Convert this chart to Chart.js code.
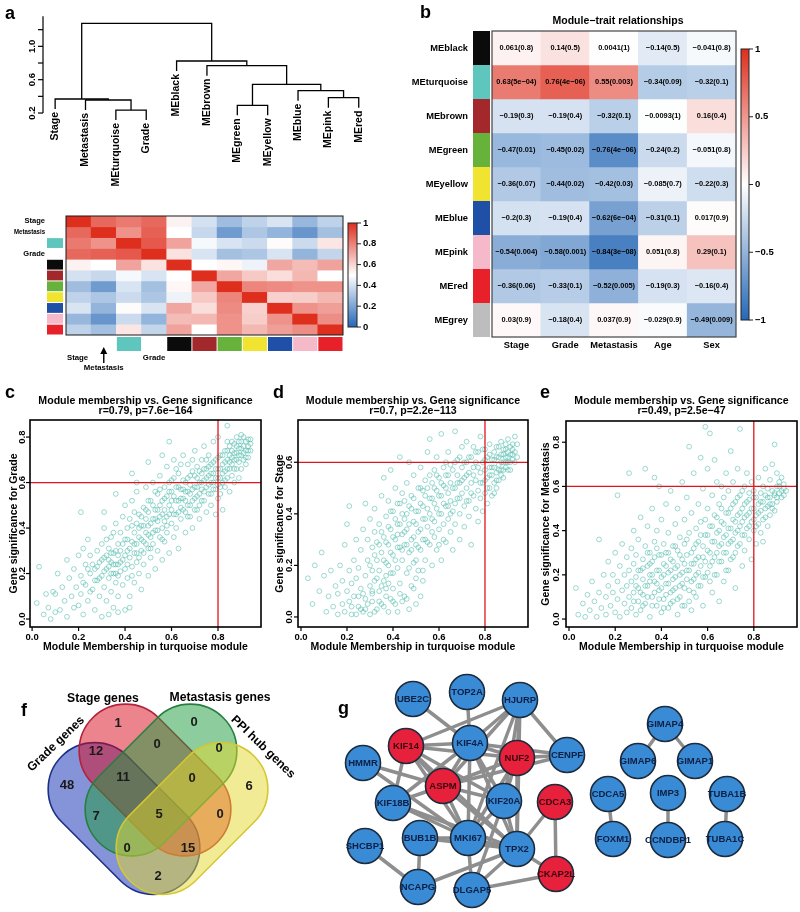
<!DOCTYPE html>
<html lang="en">
<head>
<meta charset="UTF-8">
<title>Turquoise module analysis</title>
<script src="https://cdn.jsdelivr.net/npm/chart.js@4"></script>
<style>
  body { margin: 0; background: #fff; }
  #page { position: relative; width: 800px; height: 912px; overflow: hidden; background: #fff;
          font-family: 'Liberation Sans', Arial, sans-serif; }
  #page canvas { position: absolute; }
  .tag { position: absolute; font-weight: bold; font-size: 18px; line-height: 18px; color: #000; }
</style>
</head>
<body>
<div id="page">
  <canvas id="dendro" width="400" height="190" style="left:0;top:0"></canvas>
  <canvas id="adj" width="400" height="190" style="left:0;top:190px"></canvas>
  <canvas id="trait" width="400" height="360" style="left:400px;top:0"></canvas>
  <canvas id="scGrade" width="268" height="275" style="left:0;top:385px"></canvas>
  <canvas id="scStage" width="266" height="275" style="left:268px;top:385px"></canvas>
  <canvas id="scMeta" width="266" height="275" style="left:534px;top:385px"></canvas>
  <canvas id="venn" width="340" height="232" style="left:0;top:680px"></canvas>
  <canvas id="net" width="460" height="240" style="left:340px;top:672px"></canvas>
  <div class="tag" style="left:5px;top:4px">a</div>
  <div class="tag" style="left:420px;top:3px">b</div>
  <div class="tag" style="left:5px;top:383px">c</div>
  <div class="tag" style="left:273px;top:383px">d</div>
  <div class="tag" style="left:540px;top:383px">e</div>
  <div class="tag" style="left:21px;top:701px">f</div>
  <div class="tag" style="left:338px;top:699px">g</div>
</div>
<script>
// ---------- data ----------
// a: eigengene dendrogram (hclust style merges: negative = leaf, positive = earlier merge)
const dendroLeaves = ['Stage', 'Metastasis', 'MEturquoise', 'Grade', 'MEblack', 'MEbrown',
                      'MEgreen', 'MEyellow', 'MEblue', 'MEpink', 'MEred'];
const dendroMerges = [[-3, -4, 0.236], [-2, 1, 0.356], [-1, 2, 0.368], [-10, -11, 0.384],
                      [-9, 4, 0.468], [-7, -8, 0.292], [6, 5, 0.544], [-6, 7, 0.768],
                      [-5, 8, 0.824], [3, 9, 1.276]];
const dendroTicks = [0.2, 0.4, 0.6, 0.8, 1.0, 1.2];

// a: eigengene adjacency heatmap
const adjNames = ['Stage', 'Metastasis', 'MEturquoise', 'Grade', 'MEblack', 'MEbrown',
                  'MEgreen', 'MEyellow', 'MEblue', 'MEpink', 'MEred'];
const adjValues = [
  [1.00, 0.86, 0.82, 0.86, 0.53, 0.40, 0.28, 0.35, 0.41, 0.26, 0.35],
  [0.86, 1.00, 0.76, 0.88, 0.50, 0.37, 0.17, 0.31, 0.25, 0.15, 0.29],
  [0.82, 0.76, 1.00, 0.90, 0.72, 0.48, 0.41, 0.38, 0.51, 0.38, 0.56],
  [0.86, 0.88, 0.90, 1.00, 0.57, 0.41, 0.29, 0.31, 0.41, 0.25, 0.36],
  [0.53, 0.50, 0.72, 0.57, 1.00, 0.50, 0.52, 0.46, 0.71, 0.66, 0.72],
  [0.40, 0.37, 0.48, 0.41, 0.50, 1.00, 0.71, 0.63, 0.58, 0.67, 0.50],
  [0.28, 0.17, 0.41, 0.29, 0.52, 0.71, 1.00, 0.79, 0.78, 0.76, 0.76],
  [0.35, 0.31, 0.38, 0.31, 0.46, 0.63, 0.79, 1.00, 0.61, 0.62, 0.67],
  [0.41, 0.25, 0.51, 0.41, 0.71, 0.58, 0.78, 0.61, 1.00, 0.76, 0.73],
  [0.26, 0.15, 0.38, 0.25, 0.66, 0.67, 0.76, 0.62, 0.76, 1.00, 0.77],
  [0.35, 0.29, 0.56, 0.36, 0.72, 0.50, 0.76, 0.67, 0.73, 0.77, 1.00]
];
const adjBarTicks = [0, 0.2, 0.4, 0.6, 0.8, 1];

// b: module-trait relationships
const traitNames = ['Stage', 'Grade', 'Metastasis', 'Age', 'Sex'];
const traitModules = ['MEblack', 'MEturquoise', 'MEbrown', 'MEgreen', 'MEyellow', 'MEblue', 'MEpink', 'MEred', 'MEgrey'];
const traitCor = [
  [0.061, 0.14, 0.0041, -0.14, -0.041],
  [0.63, 0.76, 0.55, -0.34, -0.32],
  [-0.19, -0.19, -0.32, -0.0093, 0.16],
  [-0.47, -0.45, -0.76, -0.24, -0.051],
  [-0.36, -0.44, -0.42, -0.085, -0.22],
  [-0.2, -0.19, -0.62, -0.31, 0.017],
  [-0.54, -0.58, -0.84, 0.051, 0.29],
  [-0.36, -0.33, -0.52, -0.19, -0.16],
  [0.03, -0.18, 0.037, -0.029, -0.49]
];
const traitP = [
  ['0.8', '0.5', '1', '0.5', '0.8'],
  ['5e-04', '4e-06', '0.003', '0.09', '0.1'],
  ['0.3', '0.4', '0.1', '1', '0.4'],
  ['0.01', '0.02', '4e-06', '0.2', '0.8'],
  ['0.07', '0.02', '0.03', '0.7', '0.3'],
  ['0.3', '0.4', '6e-04', '0.1', '0.9'],
  ['0.004', '0.001', '3e-08', '0.8', '0.1'],
  ['0.06', '0.1', '0.005', '0.3', '0.4'],
  ['0.9', '0.4', '0.9', '0.9', '0.009']
];
const traitBarTicks = [-1, -0.5, 0, 0.5, 1];

const moduleColors = { MEturquoise: '#5fc6bd', MEblack: '#0b0b0b', MEbrown: '#a3282c', MEgreen: '#66b23b',
  MEyellow: '#f0e431', MEblue: '#1f4fa6', MEpink: '#f5b9c9', MEred: '#e8202a', MEgrey: '#bdbdbd' };

// c, d, e: module membership (x) vs gene significance (y)
const gsGrade = [
  [0.02,0.07],[0.03,0.23],[0.05,0.02],[0.06,0.11],[0.07,0.05],[0.08,0.00],[0.09,0.12],[0.10,0.03],[0.10,0.11],
  [0.11,0.20],[0.12,0.04],[0.13,0.14],[0.14,0.08],[0.15,0.26],[0.15,0.01],[0.16,0.18],[0.17,0.10],[0.18,0.05],
  [0.18,0.22],[0.19,0.14],[0.20,0.28],[0.20,0.06],[0.21,0.19],[0.21,0.11],[0.21,0.47],[0.22,0.31],[0.22,0.02],
  [0.23,0.24],[0.23,0.15],[0.24,0.08],[0.24,0.35],[0.25,0.20],[0.25,0.28],[0.26,0.13],[0.27,0.22],[0.27,0.04],
  [0.28,0.30],[0.28,0.17],[0.29,0.25],[0.29,0.10],[0.30,0.33],[0.30,0.19],[0.30,0.01],[0.31,0.27],[0.31,0.14],
  [0.31,0.40],[0.31,0.47],[0.32,0.22],[0.32,0.08],[0.33,0.31],[0.33,0.18],[0.33,0.02],[0.34,0.25],[0.34,0.12],
  [0.34,0.36],[0.35,0.20],[0.35,0.29],[0.35,0.05],[0.36,0.42],[0.36,0.24],[0.36,0.16],[0.36,0.55],[0.37,0.33],
  [0.37,0.28],[0.37,0.10],[0.37,0.03],[0.38,0.38],[0.38,0.21],[0.38,0.30],[0.39,0.45],[0.39,0.26],[0.39,0.15],
  [0.40,0.35],[0.40,0.22],[0.40,0.50],[0.40,0.04],[0.41,0.30],[0.41,0.40],[0.41,0.18],[0.42,0.27],[0.42,0.44],
  [0.42,0.10],[0.42,0.05],[0.43,0.34],[0.43,0.23],[0.43,0.52],[0.43,0.64],[0.44,0.38],[0.44,0.29],[0.44,0.16],
  [0.45,0.42],[0.45,0.33],[0.45,0.25],[0.45,0.56],[0.45,0.60],[0.46,0.46],[0.46,0.20],[0.46,0.36],[0.47,0.30],
  [0.47,0.41],[0.47,0.13],[0.48,0.49],[0.48,0.34],[0.48,0.24],[0.49,0.44],[0.49,0.38],[0.49,0.58],[0.50,0.31],
  [0.50,0.47],[0.50,0.19],[0.50,0.41],[0.50,0.69],[0.51,0.36],[0.51,0.52],[0.51,0.27],[0.52,0.44],[0.52,0.60],
  [0.52,0.33],[0.53,0.48],[0.53,0.39],[0.53,0.22],[0.54,0.55],[0.54,0.43],[0.54,0.30],[0.55,0.50],[0.55,0.36],
  [0.55,0.63],[0.56,0.46],[0.56,0.40],[0.56,0.26],[0.56,0.72],[0.57,0.53],[0.57,0.58],[0.57,0.34],[0.58,0.45],
  [0.58,0.67],[0.58,0.38],[0.59,0.50],[0.59,0.56],[0.59,0.29],[0.59,0.78],[0.60,0.42],[0.60,0.61],[0.60,0.48],
  [0.61,0.54],[0.61,0.36],[0.61,0.70],[0.62,0.46],[0.62,0.58],[0.62,0.40],[0.63,0.52],[0.63,0.64],[0.63,0.31],
  [0.64,0.49],[0.64,0.57],[0.64,0.44],[0.65,0.61],[0.65,0.53],[0.65,0.72],[0.66,0.47],[0.66,0.56],[0.66,0.38],
  [0.67,0.62],[0.67,0.50],[0.67,0.68],[0.68,0.55],[0.68,0.45],[0.68,0.59],[0.69,0.65],[0.69,0.52],[0.69,0.40],
  [0.70,0.58],[0.70,0.74],[0.70,0.48],[0.71,0.62],[0.71,0.54],[0.71,0.67],[0.72,0.50],[0.72,0.60],[0.72,0.44],
  [0.73,0.70],[0.73,0.57],[0.73,0.64],[0.74,0.52],[0.74,0.61],[0.74,0.76],[0.75,0.58],[0.75,0.66],[0.75,0.47],
  [0.76,0.63],[0.76,0.55],[0.76,0.72],[0.77,0.60],[0.77,0.68],[0.77,0.50],[0.78,0.64],[0.78,0.57],[0.78,0.78],
  [0.79,0.62],[0.79,0.70],[0.79,0.46],[0.80,0.59],[0.80,0.66],[0.80,0.53],[0.80,0.80],[0.81,0.62],[0.81,0.72],
  [0.81,0.55],[0.82,0.68],[0.82,0.60],[0.82,0.48],[0.83,0.74],[0.83,0.65],[0.83,0.58],[0.84,0.70],[0.84,0.62],
  [0.84,0.78],[0.84,0.85],[0.85,0.66],[0.85,0.72],[0.85,0.56],[0.86,0.74],[0.86,0.68],[0.86,0.63],[0.87,0.77],
  [0.87,0.70],[0.87,0.60],[0.88,0.73],[0.88,0.66],[0.88,0.80],[0.89,0.75],[0.89,0.69],[0.89,0.62],[0.90,0.78],
  [0.90,0.72],[0.90,0.66],[0.91,0.76],[0.91,0.80],[0.91,0.70],[0.92,0.74],[0.92,0.78],[0.92,0.68],[0.93,0.76],
  [0.93,0.71],[0.94,0.74],[0.94,0.79],
  [0.22,0.16],[0.24,0.22],[0.25,0.12],[0.26,0.24],[0.27,0.17],[0.28,0.23],[0.29,0.18],[0.30,0.26],[0.31,0.21],
  [0.32,0.28],[0.33,0.23],[0.34,0.29],[0.35,0.24],[0.36,0.20],[0.37,0.24],[0.32,0.35],[0.33,0.26],[0.34,0.20],
  [0.35,0.38],[0.36,0.30],[0.37,0.19],[0.38,0.25],[0.39,0.33],[0.40,0.28],[0.41,0.24],[0.41,0.35],[0.42,0.31],
  [0.43,0.19],[0.43,0.41],[0.44,0.33],[0.44,0.47],[0.45,0.29],[0.46,0.40],[0.46,0.27],[0.47,0.35],[0.47,0.45],
  [0.48,0.29],[0.48,0.41],[0.49,0.33],[0.49,0.48],[0.50,0.37],[0.50,0.52],[0.51,0.42],[0.51,0.31],[0.52,0.38],
  [0.52,0.50],[0.53,0.44],[0.53,0.56],[0.54,0.39],[0.54,0.48],[0.55,0.45],[0.55,0.57],[0.56,0.52],[0.56,0.35],
  [0.57,0.43],[0.57,0.48],[0.58,0.54],[0.58,0.41],[0.59,0.46],[0.59,0.60],[0.60,0.52],[0.60,0.56],[0.61,0.46],
  [0.61,0.62],[0.62,0.52],[0.62,0.66],[0.63,0.47],[0.63,0.58],[0.64,0.53],[0.64,0.68],[0.65,0.57],[0.65,0.48],
  [0.66,0.60],[0.66,0.52],[0.67,0.56],[0.67,0.45],[0.68,0.63],[0.68,0.50],[0.69,0.57],[0.69,0.70],[0.70,0.53],
  [0.70,0.63],[0.71,0.58],[0.71,0.48],[0.72,0.65],[0.72,0.55],[0.73,0.60],[0.73,0.52],[0.74,0.66],[0.74,0.56],
  [0.75,0.62],[0.75,0.70],[0.76,0.59],[0.76,0.67],[0.77,0.64],[0.77,0.55],[0.78,0.60],[0.78,0.69],[0.79,0.66],
  [0.79,0.57],[0.80,0.62],[0.80,0.71],[0.81,0.66],[0.81,0.58],[0.82,0.64],[0.82,0.72],[0.83,0.69],[0.83,0.61],
  [0.84,0.66],[0.84,0.74],[0.85,0.69],[0.85,0.76],[0.86,0.71],[0.86,0.78],[0.87,0.73],[0.87,0.66],[0.88,0.76],
  [0.88,0.70],[0.89,0.72],[0.89,0.78],[0.90,0.75],[0.90,0.81],[0.91,0.73],[0.92,0.71],[0.93,0.79],[0.93,0.74],
  [0.94,0.77]
];
const gsStage = [
  [0.03,0.15],[0.05,0.05],[0.06,0.20],[0.08,0.10],[0.09,0.25],[0.10,0.16],[0.11,0.02],[0.12,0.08],[0.13,0.18],
  [0.14,0.04],[0.15,0.12],[0.16,0.01],[0.16,0.09],[0.17,0.20],[0.18,0.05],[0.18,0.14],[0.19,0.28],[0.19,0.02],
  [0.20,0.10],[0.20,0.36],[0.21,0.06],[0.21,0.18],[0.21,0.43],[0.22,0.13],[0.22,0.01],[0.23,0.22],[0.23,0.08],
  [0.24,0.30],[0.24,0.15],[0.24,0.01],[0.25,0.04],[0.25,0.19],[0.26,0.11],[0.26,0.26],[0.26,0.03],[0.27,0.02],
  [0.27,0.34],[0.27,0.09],[0.28,0.16],[0.28,0.44],[0.28,0.07],[0.29,0.22],[0.29,0.30],[0.29,0.05],[0.30,0.12],
  [0.30,0.01],[0.30,0.38],[0.31,0.18],[0.31,0.27],[0.31,0.06],[0.32,0.33],[0.32,0.14],[0.32,0.42],[0.32,0.02],
  [0.33,0.22],[0.33,0.03],[0.33,0.29],[0.34,0.10],[0.34,0.36],[0.34,0.18],[0.35,0.25],[0.35,0.47],[0.35,0.05],
  [0.36,0.31],[0.36,0.14],[0.36,0.54],[0.36,0.04],[0.37,0.21],[0.37,0.39],[0.37,0.08],[0.37,0.11],[0.38,0.28],
  [0.38,0.45],[0.38,0.02],[0.39,0.17],[0.39,0.34],[0.39,0.57],[0.39,0.07],[0.40,0.24],[0.40,0.41],[0.40,0.11],
  [0.41,0.30],[0.41,0.50],[0.41,0.05],[0.42,0.19],[0.42,0.36],[0.42,0.27],[0.42,0.02],[0.43,0.44],[0.43,0.13],
  [0.43,0.62],[0.44,0.32],[0.44,0.22],[0.44,0.48],[0.44,0.06],[0.45,0.08],[0.45,0.38],[0.45,0.28],[0.46,0.52],
  [0.46,0.17],[0.46,0.34],[0.47,0.25],[0.47,0.43],[0.47,0.60],[0.47,0.03],[0.48,0.30],[0.48,0.12],[0.48,0.47],
  [0.49,0.37],[0.49,0.21],[0.49,0.55],[0.50,0.28],[0.50,0.41],[0.50,0.05],[0.51,0.50],[0.51,0.33],[0.51,0.18],
  [0.52,0.44],[0.52,0.26],[0.52,0.58],[0.52,0.08],[0.53,0.38],[0.53,0.14],[0.53,0.49],[0.54,0.30],[0.54,0.53],
  [0.54,0.22],[0.55,0.42],[0.55,0.35],[0.55,0.64],[0.56,0.46],[0.56,0.28],[0.56,0.69],[0.57,0.52],[0.57,0.38],
  [0.57,0.20],[0.58,0.44],[0.58,0.57],[0.58,0.31],[0.59,0.49],[0.59,0.26],[0.59,0.62],[0.60,0.40],[0.60,0.54],
  [0.60,0.34],[0.61,0.47],[0.61,0.71],[0.61,0.22],[0.62,0.51],[0.62,0.36],[0.62,0.58],[0.63,0.43],[0.63,0.29],
  [0.63,0.55],[0.64,0.48],[0.64,0.64],[0.64,0.38],[0.65,0.52],[0.65,0.33],[0.65,0.45],[0.66,0.57],[0.66,0.41],
  [0.66,0.26],[0.67,0.50],[0.67,0.72],[0.67,0.36],[0.68,0.55],[0.68,0.46],[0.68,0.61],[0.69,0.40],[0.69,0.52],
  [0.69,0.30],[0.70,0.58],[0.70,0.48],[0.70,0.66],[0.71,0.43],[0.71,0.54],[0.71,0.35],[0.72,0.60],[0.72,0.50],
  [0.72,0.68],[0.73,0.45],[0.73,0.56],[0.73,0.39],[0.74,0.62],[0.74,0.52],[0.74,0.28],[0.75,0.47],[0.75,0.58],
  [0.75,0.66],[0.76,0.53],[0.76,0.42],[0.76,0.60],[0.77,0.49],[0.77,0.64],[0.77,0.37],[0.78,0.56],[0.78,0.46],
  [0.78,0.70],[0.79,0.52],[0.79,0.60],[0.79,0.41],[0.80,0.57],[0.80,0.48],[0.80,0.65],[0.81,0.54],[0.81,0.44],
  [0.81,0.62],[0.82,0.58],[0.82,0.50],[0.82,0.67],[0.83,0.55],[0.83,0.47],[0.83,0.61],[0.84,0.52],[0.84,0.64],
  [0.84,0.58],[0.85,0.62],[0.85,0.50],[0.85,0.56],[0.86,0.66],[0.86,0.59],[0.86,0.53],[0.87,0.63],[0.87,0.57],
  [0.87,0.68],[0.88,0.60],[0.88,0.65],[0.88,0.54],[0.89,0.62],[0.89,0.67],[0.89,0.58],[0.90,0.64],[0.90,0.60],
  [0.90,0.69],[0.91,0.63],[0.91,0.66],[0.91,0.57],[0.92,0.65],[0.92,0.61],[0.93,0.64],[0.93,0.70],[0.94,0.62],
  [0.94,0.67],
  [0.22,0.04],[0.25,0.08],[0.28,0.03],[0.31,0.09],[0.34,0.06],[0.38,0.13],[0.40,0.06],[0.43,0.09],[0.46,0.07],
  [0.49,0.11],[0.50,0.15],[0.53,0.18],[0.30,0.20],[0.31,0.10],[0.32,0.24],[0.33,0.15],[0.34,0.28],[0.35,0.12],
  [0.35,0.33],[0.36,0.22],[0.37,0.29],[0.37,0.16],[0.38,0.35],[0.38,0.20],[0.39,0.25],[0.39,0.41],[0.40,0.31],
  [0.40,0.17],[0.41,0.38],[0.41,0.22],[0.42,0.32],[0.42,0.44],[0.43,0.27],[0.43,0.36],[0.44,0.40],[0.44,0.26],
  [0.45,0.33],[0.45,0.45],[0.46,0.28],[0.46,0.40],[0.47,0.36],[0.47,0.19],[0.48,0.42],[0.48,0.26],[0.49,0.31],
  [0.49,0.46],[0.50,0.36],[0.50,0.22],[0.51,0.41],[0.51,0.27],[0.52,0.34],[0.52,0.50],[0.53,0.30],[0.53,0.43],
  [0.54,0.38],[0.54,0.47],[0.55,0.29],[0.55,0.50],[0.56,0.40],[0.56,0.55],[0.57,0.33],[0.57,0.46],[0.58,0.50],
  [0.58,0.37],[0.59,0.42],[0.59,0.55],[0.60,0.47],[0.60,0.28],[0.61,0.52],[0.61,0.40],[0.62,0.44],[0.62,0.30],
  [0.63,0.50],[0.63,0.60],[0.64,0.43],[0.64,0.55],[0.65,0.59],[0.65,0.40],[0.66,0.50],[0.67,0.44],[0.67,0.60],
  [0.68,0.52],[0.69,0.46],[0.69,0.62],[0.70,0.53],[0.71,0.60],[0.72,0.45],[0.72,0.55],[0.73,0.62],[0.74,0.48],
  [0.75,0.55],[0.76,0.64],[0.77,0.58],[0.78,0.52],[0.79,0.65],[0.80,0.53],[0.80,0.61],[0.81,0.50],[0.82,0.55],
  [0.82,0.63],[0.83,0.58],[0.84,0.48],[0.84,0.61],[0.85,0.53],[0.85,0.66],[0.86,0.57],[0.86,0.62],[0.87,0.55],
  [0.87,0.60],[0.88,0.63],[0.88,0.57],[0.89,0.60],[0.89,0.65],[0.90,0.57],[0.90,0.62],[0.91,0.60],[0.92,0.63],
  [0.92,0.67],[0.93,0.60]
];
const gsMetastasis = [
  [0.03,0.14],[0.04,0.02],[0.06,0.07],[0.07,0.01],[0.08,0.11],[0.09,0.04],[0.10,0.17],[0.11,0.08],[0.12,0.01],
  [0.13,0.36],[0.13,0.12],[0.14,0.05],[0.15,0.20],[0.16,0.10],[0.16,0.02],[0.17,0.15],[0.17,0.26],[0.18,0.06],
  [0.19,0.20],[0.19,0.12],[0.20,0.03],[0.20,0.30],[0.21,0.56],[0.21,0.09],[0.21,0.17],[0.22,0.24],[0.22,0.01],
  [0.23,0.13],[0.23,0.34],[0.24,0.07],[0.24,0.20],[0.25,0.28],[0.25,0.03],[0.25,0.15],[0.26,0.66],[0.26,0.10],
  [0.26,0.22],[0.27,0.05],[0.27,0.32],[0.27,0.17],[0.28,0.12],[0.28,0.40],[0.28,0.25],[0.29,0.02],[0.29,0.19],
  [0.29,0.29],[0.30,0.08],[0.30,0.36],[0.30,0.14],[0.31,0.22],[0.31,0.46],[0.31,0.04],[0.32,0.27],[0.32,0.11],
  [0.32,0.18],[0.33,0.68],[0.33,0.33],[0.33,0.07],[0.34,0.24],[0.34,0.15],[0.34,0.42],[0.35,0.20],[0.35,0.01],
  [0.35,0.30],[0.36,0.10],[0.36,0.26],[0.36,0.50],[0.37,0.64],[0.37,0.17],[0.37,0.35],[0.38,0.06],[0.38,0.22],
  [0.38,0.40],[0.39,0.60],[0.39,0.13],[0.39,0.29],[0.40,0.19],[0.40,0.03],[0.40,0.45],[0.41,0.25],[0.41,0.34],
  [0.41,0.09],[0.42,0.16],[0.42,0.52],[0.42,0.30],[0.43,0.21],[0.43,0.05],[0.43,0.39],[0.44,0.12],[0.44,0.27],
  [0.44,0.58],[0.45,0.18],[0.45,0.33],[0.45,0.08],[0.46,0.43],[0.46,0.23],[0.46,0.14],[0.47,0.31],[0.47,0.02],
  [0.47,0.50],[0.48,0.20],[0.48,0.37],[0.48,0.10],[0.49,0.27],[0.49,0.62],[0.49,0.16],[0.50,0.34],[0.50,0.06],
  [0.50,0.45],[0.51,0.22],[0.51,0.29],[0.51,0.55],[0.52,0.78],[0.52,0.13],[0.52,0.39],[0.53,0.25],[0.53,0.48],
  [0.53,0.04],[0.54,0.18],[0.54,0.32],[0.54,0.66],[0.55,0.10],[0.55,0.41],[0.55,0.27],[0.56,0.21],[0.56,0.52],
  [0.56,0.35],[0.57,0.73],[0.57,0.15],[0.57,0.44],[0.58,0.28],[0.58,0.06],[0.58,0.59],[0.59,0.87],[0.59,0.38],
  [0.59,0.19],[0.60,0.31],[0.60,0.50],[0.60,0.68],[0.61,0.84],[0.61,0.24],[0.61,0.42],[0.62,0.12],[0.62,0.35],
  [0.62,0.56],[0.63,0.28],[0.63,0.47],[0.63,0.72],[0.64,0.20],[0.64,0.39],[0.64,0.62],[0.65,0.33],[0.65,0.52],
  [0.65,0.08],[0.66,0.44],[0.66,0.26],[0.66,0.60],[0.67,0.37],[0.67,0.17],[0.67,0.55],[0.68,0.48],[0.68,0.30],
  [0.68,0.66],[0.69,0.41],[0.69,0.22],[0.69,0.58],[0.70,0.35],[0.70,0.50],[0.70,0.76],[0.71,0.45],[0.71,0.28],
  [0.71,0.62],[0.72,0.39],[0.72,0.53],[0.72,0.14],[0.73,0.47],[0.73,0.33],[0.73,0.68],[0.74,0.86],[0.74,0.42],
  [0.74,0.56],[0.75,0.38],[0.75,0.50],[0.75,0.24],[0.76,0.46],[0.76,0.60],[0.76,0.31],[0.77,0.53],[0.77,0.41],
  [0.77,0.66],[0.78,0.48],[0.78,0.36],[0.78,0.57],[0.79,0.44],[0.79,0.62],[0.79,0.27],[0.80,0.50],[0.80,0.40],
  [0.80,0.58],[0.81,0.47],[0.81,0.55],[0.81,0.34],[0.82,0.52],[0.82,0.43],[0.82,0.64],[0.83,0.49],[0.83,0.57],
  [0.83,0.39],[0.84,0.35],[0.84,0.53],[0.84,0.60],[0.85,0.46],[0.85,0.56],[0.85,0.68],[0.86,0.51],[0.86,0.59],
  [0.86,0.42],[0.87,0.55],[0.87,0.63],[0.87,0.47],[0.88,0.58],[0.88,0.52],[0.88,0.70],[0.89,0.79],[0.89,0.56],
  [0.89,0.49],[0.90,0.60],[0.90,0.53],[0.90,0.66],[0.91,0.57],[0.91,0.62],[0.92,0.64],[0.92,0.55],[0.93,0.59],
  [0.93,0.61],[0.94,0.58],
  [0.28,0.08],[0.29,0.15],[0.30,0.22],[0.31,0.12],[0.32,0.06],[0.32,0.23],[0.33,0.15],[0.34,0.10],[0.34,0.30],
  [0.35,0.17],[0.35,0.25],[0.36,0.06],[0.36,0.20],[0.37,0.12],[0.37,0.28],[0.38,0.16],[0.38,0.32],[0.39,0.09],
  [0.39,0.22],[0.40,0.14],[0.40,0.29],[0.41,0.20],[0.41,0.05],[0.42,0.24],[0.42,0.11],[0.43,0.16],[0.43,0.30],
  [0.44,0.22],[0.44,0.07],[0.45,0.26],[0.45,0.13],[0.46,0.19],[0.46,0.33],[0.47,0.09],[0.47,0.24],[0.48,0.15],
  [0.48,0.29],[0.49,0.21],[0.49,0.06],[0.50,0.25],[0.50,0.14],[0.51,0.18],[0.51,0.36],[0.52,0.22],[0.52,0.08],
  [0.53,0.30],[0.53,0.17],[0.54,0.25],[0.54,0.12],[0.55,0.34],[0.55,0.20],[0.56,0.28],[0.56,0.15],[0.57,0.24],
  [0.57,0.38],[0.58,0.19],[0.58,0.33],[0.59,0.26],[0.59,0.45],[0.60,0.21],[0.60,0.38],[0.61,0.30],[0.61,0.17],
  [0.62,0.42],[0.62,0.26],[0.63,0.35],[0.63,0.20],[0.64,0.30],[0.64,0.46],[0.65,0.26],[0.65,0.40],[0.66,0.34],
  [0.66,0.50],[0.67,0.30],[0.67,0.43],[0.68,0.38],[0.68,0.22],[0.69,0.34],[0.69,0.48],[0.70,0.41],[0.70,0.27],
  [0.71,0.36],[0.71,0.52],[0.72,0.44],[0.72,0.30],[0.73,0.40],[0.73,0.55],[0.74,0.48],[0.74,0.34],[0.75,0.44],
  [0.75,0.58],[0.76,0.52],[0.76,0.38],[0.77,0.47],[0.78,0.42],[0.78,0.54],[0.79,0.50],[0.80,0.45],[0.80,0.55],
  [0.81,0.42],[0.82,0.48],[0.83,0.53],[0.84,0.45],[0.85,0.50],[0.86,0.55],[0.87,0.52],[0.88,0.50],[0.89,0.57],
  [0.90,0.55],[0.91,0.60],[0.92,0.58],[0.93,0.56]
];
const mmTicks = [0, 0.2, 0.4, 0.6, 0.8];

// f: Venn diagram
const vennSets = ['Grade genes', 'Stage genes', 'Metastasis genes', 'PPI hub genes'];
const vennRegions = ['S', 'M', 'GS', 'SM', 'MP', 'G', 'GSM', 'SMP', 'P', 'GM', 'GSMP', 'SP', 'GMP', 'GSP', 'GP'];
const vennCounts = [1, 0, 12, 0, 0, 48, 11, 0, 6, 7, 5, 0, 0, 15, 2];

// g: PPI network
const nodeNames = ['UBE2C', 'TOP2A', 'HJURP', 'KIF14', 'KIF4A', 'NUF2', 'CENPF', 'HMMR', 'ASPM', 'KIF18B',
  'KIF20A', 'CDCA3', 'SHCBP1', 'BUB1B', 'MKI67', 'TPX2', 'NCAPG', 'DLGAP5', 'CKAP2L',
  'GIMAP4', 'GIMAP6', 'GIMAP1', 'CDCA5', 'IMP3', 'TUBA1B', 'FOXM1', 'CCNDBP1', 'TUBA1C'];
const nodeX = [73, 127, 180, 66, 130, 177, 227, 23, 103, 53, 164, 215, 25, 80, 128, 177, 78, 132, 216,
  325, 298, 355, 268, 328, 387, 273, 328, 385];
const nodeY = [27, 20, 28, 74, 71, 86, 83, 91, 114, 131, 129, 130, 174, 166, 166, 177, 215, 218, 202,
  52, 89, 89, 122, 121, 122, 167, 168, 167];
const hubGenes = ['KIF14', 'NUF2', 'ASPM', 'CDCA3', 'CKAP2L'];
const netEdges = [
  ['UBE2C','KIF4A'], ['TOP2A','KIF4A'],
  ['HJURP','KIF14'], ['HJURP','KIF4A'], ['HJURP','NUF2'], ['HJURP','CENPF'], ['HJURP','ASPM'],
  ['HJURP','KIF20A'], ['HJURP','MKI67'], ['HJURP','TPX2'],
  ['KIF14','KIF4A'], ['KIF14','NUF2'], ['KIF14','ASPM'], ['KIF14','KIF18B'], ['KIF14','MKI67'],
  ['KIF14','KIF20A'], ['KIF14','TPX2'],
  ['HMMR','ASPM'], ['HMMR','MKI67'],
  ['KIF4A','NUF2'], ['KIF4A','ASPM'], ['KIF4A','KIF18B'], ['KIF4A','MKI67'], ['KIF4A','KIF20A'],
  ['KIF4A','TPX2'], ['KIF4A','CENPF'],
  ['NUF2','CENPF'], ['NUF2','ASPM'], ['NUF2','KIF20A'], ['NUF2','MKI67'], ['NUF2','TPX2'],
  ['ASPM','KIF18B'], ['ASPM','KIF20A'], ['ASPM','MKI67'], ['ASPM','TPX2'], ['ASPM','CENPF'],
  ['KIF18B','MKI67'], ['KIF18B','TPX2'],
  ['KIF20A','MKI67'], ['KIF20A','TPX2'], ['KIF20A','DLGAP5'],
  ['CDCA3','TPX2'], ['CDCA3','CKAP2L'], ['SHCBP1','NCAPG'],
  ['BUB1B','MKI67'], ['BUB1B','NCAPG'], ['BUB1B','TPX2'],
  ['MKI67','TPX2'], ['MKI67','DLGAP5'],
  ['TPX2','NCAPG'], ['TPX2','DLGAP5'], ['TPX2','CKAP2L'], ['DLGAP5','CKAP2L'],
  ['GIMAP4','GIMAP6'], ['GIMAP4','GIMAP1'], ['CDCA5','FOXM1'], ['IMP3','CCNDBP1'], ['TUBA1B','TUBA1C']
];

// ---------- helpers ----------
const FAM = "'Liberation Sans', Arial, sans-serif";
Chart.defaults.font.family = FAM;
const bf = sz => 'bold ' + sz + 'px ' + FAM;
const RED = [222, 46, 30], BLUE = [38, 104, 182];
function bwr(t) {
  const c = t >= 0 ? RED : BLUE, a = Math.min(1, Math.abs(t));
  return 'rgb(' + c.map(v => Math.round(255 + (v - 255) * a)).join(',') + ')';
}
const minus = s => String(s).replace(/-/g, '\u2212');
function txt(ctx, s, x, y, font, align, base, color, rot, maxW) {
  ctx.save();
  ctx.translate(x, y);
  if (rot) ctx.rotate(rot);
  ctx.font = font;
  ctx.fillStyle = color || '#000';
  ctx.textAlign = align || 'center';
  ctx.textBaseline = base || 'middle';
  if (maxW) ctx.fillText(s, 0, 0, maxW); else ctx.fillText(s, 0, 0);
  ctx.restore();
}
function line(ctx, x1, y1, x2, y2, color, w) {
  ctx.beginPath();
  ctx.moveTo(x1, y1);
  ctx.lineTo(x2, y2);
  ctx.strokeStyle = color;
  ctx.lineWidth = w;
  ctx.stroke();
}
function opts(pad, scales) {
  return {
    responsive: false, animation: false, events: [],
    layout: { padding: pad, autoPadding: false },
    plugins: { legend: { display: false }, tooltip: { enabled: false } },
    scales: scales
  };
}
function colorBar(ctx, x, y0, y1, w, ticks, lo, hi) {
  const g = ctx.createLinearGradient(0, y1, 0, y0);
  g.addColorStop(0, bwr(-1)); g.addColorStop(0.5, bwr(0)); g.addColorStop(1, bwr(1));
  ctx.fillStyle = g;
  ctx.fillRect(x, y0, w, y1 - y0);
  ctx.strokeStyle = '#222'; ctx.lineWidth = 1;
  ctx.strokeRect(x, y0, w, y1 - y0);
  ticks.forEach(t => {
    const yy = y1 - (t - lo) / (hi - lo) * (y1 - y0);
    line(ctx, x + w, yy, x + w + 4, yy, '#222', 1);
    txt(ctx, minus(t), x + w + 6, yy, bf(9.5), 'left');
  });
}

// ---------- a: dendrogram ----------
(function () {
  const leafX = dendroLeaves.map((_, i) => i + 1);
  const mX = [], mH = [], leafBot = [];
  const pos = id => id < 0 ? leafX[-id - 1] : mX[id - 1];
  dendroMerges.forEach(([a, b, h], k) => { mX[k] = (pos(a) + pos(b)) / 2; mH[k] = h; });
  const hang = 0.12;
  const sets = dendroMerges.map(([a, b, h]) => {
    const bot = id => id < 0 ? (leafBot[-id - 1] = h - hang) : mH[id - 1];
    return {
      data: [{ x: pos(a), y: bot(a) }, { x: pos(a), y: h }, { x: pos(b), y: h }, { x: pos(b), y: bot(b) }],
      showLine: true, borderColor: '#000', borderWidth: 1.3, pointRadius: 0, clip: false
    };
  });
  new Chart(document.getElementById('dendro'), {
    type: 'scatter',
    data: { datasets: sets },
    options: opts({ left: 43, right: 20, top: 17, bottom: 60.3 }, {
      x: { type: 'linear', min: 0.6, max: 11.7, display: false },
      y: { type: 'linear', min: 0, max: 1.352, display: false }
    }),
    plugins: [{
      id: 'dendroAxis',
      afterDatasetsDraw(chart) {
        const { ctx, scales: { x, y }, chartArea: ca } = chart;
        line(ctx, ca.left, y.getPixelForValue(0.2), ca.left, y.getPixelForValue(1.36), '#000', 1.2);
        dendroTicks.forEach((t, i) => {
          const yy = y.getPixelForValue(t);
          line(ctx, ca.left - 5, yy, ca.left, yy, '#000', 1.2);
          if (i % 2 === 0) txt(ctx, t.toFixed(1), ca.left - 11, yy, bf(9.5), 'center', 'middle', '#000', -Math.PI / 2);
        });
        dendroLeaves.forEach((lab, i) => {
          txt(ctx, lab, x.getPixelForValue(leafX[i]), y.getPixelForValue(leafBot[i]) + 3, bf(10.5),
              'right', 'middle', '#000', -Math.PI / 2);
        });
      }
    }]
  });
})();

// ---------- a: adjacency heatmap ----------
(function () {
  const sets = adjValues.map((row, r) => ({
    label: adjNames[r],
    data: row.map(() => 1),
    backgroundColor: row.map(v => bwr(2 * v - 1)),
    borderWidth: 0, barPercentage: 1, categoryPercentage: 1
  }));
  new Chart(document.getElementById('adj'), {
    type: 'bar',
    data: { labels: adjNames, datasets: sets },
    options: opts({ left: 66, right: 57, top: 26, bottom: 45 }, {
      x: { stacked: true, display: false },
      y: { stacked: true, min: 0, max: adjNames.length, reverse: true, display: false }
    }),
    plugins: [{
      id: 'adjDecor',
      afterDatasetsDraw(chart) {
        const { ctx, chartArea: ca } = chart;
        ctx.strokeStyle = '#1a1a1a'; ctx.lineWidth = 1;
        ctx.strokeRect(ca.left, ca.top, ca.right - ca.left, ca.bottom - ca.top);
        const rowH = (ca.bottom - ca.top) / adjNames.length;
        const colW = (ca.right - ca.left) / adjNames.length;
        adjNames.forEach((n, i) => {
          const bar = chart.getDatasetMeta(i).data[0];
          const cy = (bar.y + bar.base) / 2;
          if (moduleColors[n]) {
            ctx.fillStyle = moduleColors[n];
            ctx.fillRect(47, cy - rowH / 2 + 0.5, 16, rowH - 1);
            ctx.fillRect(ca.left + colW * i + 0.5, ca.bottom + 2, colW - 1, 14);
          } else {
            txt(ctx, n, 45, cy, bf(7.5), 'right', 'middle', '#000', 0, n.length > 6 ? 31 : 0);
          }
        });
        const colX = i => ca.left + colW * (i + 0.5);
        txt(ctx, 'Stage', colX(0) - 1, ca.bottom + 23, bf(7.8));
        txt(ctx, 'Grade', colX(3), ca.bottom + 23, bf(7.8));
        const ax = colX(1);
        line(ctx, ax, ca.bottom + 28, ax, ca.bottom + 17, '#000', 1.4);
        ctx.beginPath();
        ctx.moveTo(ax, ca.bottom + 12); ctx.lineTo(ax - 3.5, ca.bottom + 19); ctx.lineTo(ax + 3.5, ca.bottom + 19);
        ctx.closePath(); ctx.fillStyle = '#000'; ctx.fill();
        txt(ctx, 'Metastasis', ax, ca.bottom + 33, bf(7.8));
        colorBar(ctx, 348, 33, 137, 9, adjBarTicks, 0, 1);
      }
    }]
  });
})();

// ---------- b: module-trait heatmap ----------
(function () {
  const sets = traitCor.map((row, r) => ({
    label: traitModules[r],
    data: row.map(() => 1),
    backgroundColor: row.map(v => bwr(v)),
    borderWidth: 0, barPercentage: 1, categoryPercentage: 1
  }));
  new Chart(document.getElementById('trait'), {
    type: 'bar',
    data: { labels: traitNames, datasets: sets },
    options: opts({ left: 92, right: 64, top: 31, bottom: 23 }, {
      x: { stacked: true, display: false },
      y: { stacked: true, min: 0, max: traitModules.length, reverse: true, display: false }
    }),
    plugins: [{
      id: 'traitDecor',
      afterDatasetsDraw(chart) {
        const { ctx, chartArea: ca } = chart;
        const rowH = (ca.bottom - ca.top) / traitModules.length;
        traitModules.forEach((m, r) => {
          const meta = chart.getDatasetMeta(r);
          meta.data.forEach((bar, c) => {
            const cy = (bar.y + bar.base) / 2;
            txt(ctx, minus(traitCor[r][c]) + '(' + minus(traitP[r][c]) + ')', bar.x, cy, bf(7.4));
          });
          const cy = (meta.data[0].y + meta.data[0].base) / 2;
          ctx.fillStyle = moduleColors[m];
          ctx.fillRect(73, cy - rowH / 2, 17, rowH);
          txt(ctx, m, 68, cy, bf(9.3), 'right');
        });
        ctx.strokeStyle = '#444'; ctx.lineWidth = 1.2;
        ctx.strokeRect(ca.left, ca.top, ca.right - ca.left, ca.bottom - ca.top);
        chart.getDatasetMeta(0).data.forEach((bar, c) => {
          txt(ctx, traitNames[c], bar.x, ca.bottom + 8, bf(9.3));
        });
        txt(ctx, 'Module\u2212trait relationships', 218, 21, bf(10.5));
        colorBar(ctx, 341, 49, 320, 8, traitBarTicks, -1, 1);
      }
    }]
  });
})();

// ---------- c, d, e: scatter plots ----------
function scatterPanel(id, pts, pad, xr, yr, yTicks, yTitle, stat, tickOff, titleOff) {
  new Chart(document.getElementById(id), {
    type: 'scatter',
    data: { datasets: [{
      data: pts.map(p => ({ x: p[0], y: p[1] })),
      pointRadius: 2.4, pointBorderWidth: 0.85,
      pointBackgroundColor: 'rgba(0,0,0,0)', pointBorderColor: 'rgba(62,180,164,0.6)'
    }] },
    options: opts(pad, {
      x: { type: 'linear', min: xr[0], max: xr[1], display: false },
      y: { type: 'linear', min: yr[0], max: yr[1], display: false }
    }),
    plugins: [{
      id: 'rPlot',
      afterDatasetsDraw(chart) {
        const { ctx, chartArea: ca, scales: { x, y } } = chart;
        const xv = x.getPixelForValue(0.8), yv = y.getPixelForValue(0.6);
        line(ctx, xv, ca.top, xv, ca.bottom, '#e0141e', 1.3);
        line(ctx, ca.left, yv, ca.right, yv, '#e0141e', 1.3);
        ctx.strokeStyle = '#000'; ctx.lineWidth = 1.6;
        ctx.strokeRect(ca.left, ca.top, ca.right - ca.left, ca.bottom - ca.top);
        mmTicks.forEach(t => {
          const px = x.getPixelForValue(t);
          line(ctx, px, ca.bottom, px, ca.bottom + 4, '#000', 1.2);
          txt(ctx, t.toFixed(1), px, ca.bottom + 10, bf(9.5));
        });
        yTicks.forEach(t => {
          const py = y.getPixelForValue(t);
          line(ctx, ca.left - 4, py, ca.left, py, '#000', 1.2);
          txt(ctx, t.toFixed(1), ca.left - tickOff, py, bf(9.5), 'center', 'middle', '#000', -Math.PI / 2);
        });
        const mid = (ca.left + ca.right) / 2;
        txt(ctx, 'Module Membership in turquoise module', mid, ca.bottom + 20, bf(10.5));
        txt(ctx, yTitle, ca.left - titleOff, (ca.top + ca.bottom) / 2, bf(10.5), 'center', 'middle', '#000', -Math.PI / 2);
        txt(ctx, 'Module membership vs. Gene significance', mid, 15.7, bf(10.6));
        txt(ctx, stat, mid, 26.3, bf(10.6));
      }
    }]
  });
}
scatterPanel('scGrade', gsGrade, { left: 30, right: 7, top: 35, bottom: 33 }, [-0.009, 0.985], [-0.035, 0.875],
  [0, 0.2, 0.4, 0.6, 0.8], 'Gene significance for Grade', 'r=0.79, p=7.6e\u2212164', 8, 16);
scatterPanel('scStage', gsStage, { left: 30, right: 6, top: 35, bottom: 33 }, [-0.013, 0.987], [-0.039, 0.764],
  [0, 0.2, 0.4, 0.6], 'Gene significance for Stage', 'r=0.7, p=2.2e\u2212113', 9, 18);
scatterPanel('scMeta', gsMetastasis, { left: 32, right: 3, top: 36, bottom: 33 }, [-0.013, 0.987], [-0.036, 0.896],
  [0, 0.2, 0.4, 0.6, 0.8], 'Gene significance for Metastasis', 'r=0.49, p=2.5e\u221247', 10, 20);

// ---------- f: Venn diagram ----------
(function () {
  // layout (canvas units): shape centres, label anchors
  const ellCx = [124, 155, 161, 192], ellCy = [138.5, 100, 100, 138.5];
  const ellRot = [Math.PI / 4, Math.PI / 4, -Math.PI / 4, -Math.PI / 4];
  const ellFill = ['rgba(12,42,178,0.5)', 'rgba(218,10,30,0.5)', 'rgba(28,156,60,0.5)', 'rgba(228,216,44,0.5)'];
  const ellEdge = ['#1b2f86', '#b4213a', '#25803f', '#d3c832'];
  const regX = { S: 118, M: 194, GS: 96, SM: 157, MP: 219, G: 67, GSM: 123, SMP: 192, P: 249,
                 GM: 96, GSMP: 159, SP: 220, GMP: 127, GSP: 188, GP: 158 };
  const regY = { S: 43, M: 42, GS: 71, SM: 64, MP: 68, G: 105, GSM: 97, SMP: 98, P: 106,
                 GM: 136, GSMP: 134, SP: 134, GMP: 168, GSP: 168, GP: 196 };
  const LA = 88, LB = 46.5;
  new Chart(document.getElementById('venn'), {
    type: 'scatter',
    data: { datasets: [{ data: vennRegions.map(r => ({ x: regX[r], y: regY[r] })), pointRadius: 0 }] },
    options: opts(0, {
      x: { type: 'linear', min: 0, max: 340, display: false },
      y: { type: 'linear', min: 0, max: 232, reverse: true, display: false }
    }),
    plugins: [{
      id: 'vennDraw',
      afterDatasetsDraw(chart) {
        const { ctx, scales: { x, y } } = chart;
        vennSets.forEach((s, i) => {
          ctx.save();
          ctx.translate(x.getPixelForValue(ellCx[i]), y.getPixelForValue(ellCy[i]));
          ctx.rotate(ellRot[i]);
          ctx.beginPath();
          ctx.moveTo(-LA + LB, -LB);
          ctx.lineTo(LA - LB, -LB);
          ctx.arc(LA - LB, 0, LB, -Math.PI / 2, Math.PI / 2);
          ctx.lineTo(-LA + LB, LB);
          ctx.arc(-LA + LB, 0, LB, Math.PI / 2, 3 * Math.PI / 2);
          ctx.closePath();
          ctx.fillStyle = ellFill[i]; ctx.fill();
          ctx.strokeStyle = ellEdge[i]; ctx.lineWidth = 1.6; ctx.stroke();
          ctx.restore();
        });
        chart.getDatasetMeta(0).data.forEach((pt, i) => {
          txt(ctx, String(vennCounts[i]), pt.x, pt.y, bf(13), 'center', 'middle', '#1a1a1a');
        });
        txt(ctx, vennSets[1], 103, 19, bf(12.2));
        txt(ctx, vennSets[2], 220, 18, bf(12.2));
        txt(ctx, vennSets[0], 56, 64, bf(12.2), 'center', 'middle', '#000', -44 * Math.PI / 180);
        txt(ctx, vennSets[3], 263, 67, bf(12.2), 'center', 'middle', '#000', 44 * Math.PI / 180);
      }
    }]
  });
})();

// ---------- g: PPI network ----------
(function () {
  const idx = n => nodeNames.indexOf(n);
  const edgeSets = netEdges.map(([a, b]) => ({
    data: [{ x: nodeX[idx(a)], y: nodeY[idx(a)] }, { x: nodeX[idx(b)], y: nodeY[idx(b)] }],
    showLine: true, borderColor: '#8e8e8e', borderWidth: 3.5, pointRadius: 0, order: 1, clip: false
  }));
  const nodeSet = {
    data: nodeNames.map((n, i) => ({ x: nodeX[i], y: nodeY[i] })),
    pointRadius: 17.5, pointBorderWidth: 1.6, pointBorderColor: '#1d2b3b',
    pointBackgroundColor: nodeNames.map(n => hubGenes.includes(n) ? '#e7203b' : '#3a8bd6'),
    order: 0, clip: false
  };
  new Chart(document.getElementById('net'), {
    type: 'scatter',
    data: { datasets: [nodeSet].concat(edgeSets) },
    options: opts(0, {
      x: { type: 'linear', min: 0, max: 460, display: false },
      y: { type: 'linear', min: 0, max: 240, reverse: true, display: false }
    }),
    plugins: [{
      id: 'nodeLabels',
      afterDatasetsDraw(chart) {
        const { ctx } = chart;
        chart.getDatasetMeta(0).data.forEach((pt, i) => {
          const hub = hubGenes.includes(nodeNames[i]);
          txt(ctx, nodeNames[i], pt.x, pt.y + 0.5, bf(9.5), 'center', 'middle', hub ? '#3a0710' : '#0c1f44');
        });
      }
    }]
  });
})();
</script>
</body>
</html>
